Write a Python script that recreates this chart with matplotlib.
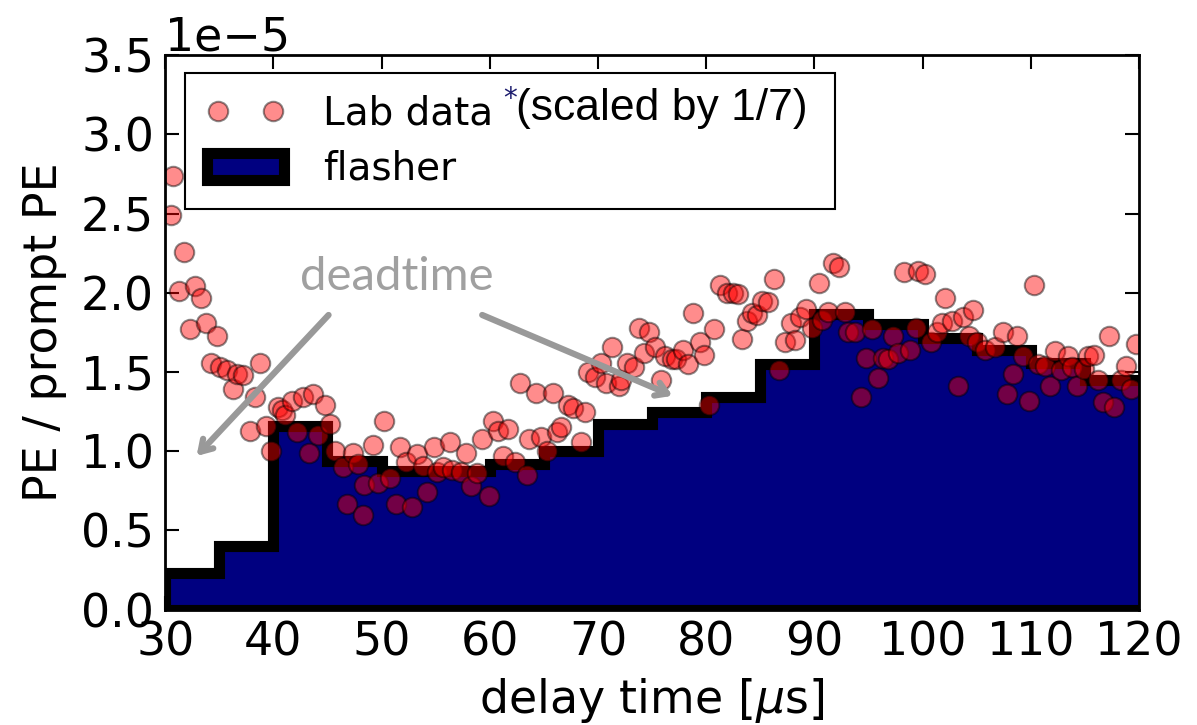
import numpy as np
import matplotlib
matplotlib.use('Agg')
import matplotlib.pyplot as plt
from matplotlib.patches import Patch
from matplotlib.lines import Line2D

# flasher histogram, 5 us bins, in units of 1e-5 (last bin runs past the axis edge)
bin_edges = [30, 35, 40, 45, 50, 55, 60, 65, 70, 75, 80, 85, 90, 95, 100, 105, 110, 115, 120, 125]
flasher = [0.23, 0.40, 1.16, 0.94, 0.875, 0.875, 0.92, 1.00, 1.17, 1.245,
           1.345, 1.55, 1.865, 1.80, 1.715, 1.64, 1.56, 1.45, 1.45]

# lab data points (delay time, PE/prompt PE in 1e-5)
lab_t = [30.55, 30.74, 31.3, 31.75, 32.3, 32.8, 33.3, 33.8, 34.25, 34.8,
         35.1, 35.7, 36.3, 36.65, 37.2, 37.8, 38.3, 38.8, 39.3, 39.8,
         40.4, 40.8, 41.1, 41.7, 42.2, 42.7, 43.3, 43.7, 44.1, 44.8,
         45.25, 45.7, 46.4, 46.8, 47.4, 47.8, 48.3, 48.4, 49.2, 49.7,
         50.2, 50.8, 51.3, 51.7, 52.3, 52.8, 53.3, 53.8, 54.2, 54.8,
         55.1, 55.7, 56.3, 56.5, 57.3, 57.8, 58.3, 58.8, 59.3, 59.9,
         60.3, 60.8, 61.2, 61.7, 62.3, 62.8, 63.4, 63.6, 64.3, 64.7,
         65.3, 65.8, 66.2, 66.6, 67.2, 67.7, 68.4, 68.8, 69.1, 69.7,
         70.3, 70.7, 71.3, 71.9, 72.1, 72.7, 73.3, 73.8, 74.3, 74.7,
         75.3, 75.8, 76.2, 76.8, 77.2, 77.9, 78.3, 78.8, 79.4, 79.8,
         80.3, 80.7, 81.3, 81.9, 82.5, 82.9, 83.3, 83.8, 84.2, 84.7,
         85.2, 85.7, 86.3, 86.7, 87.3, 87.8, 88.2, 88.7, 89.2, 89.8,
         90.4, 90.7, 91.3, 91.7, 92.3, 92.8, 93.1, 93.8, 94.3, 94.8,
         95.3, 95.9, 96.3, 96.8, 97.3, 97.7, 98.3, 98.8, 99.4, 99.6,
         100.2, 100.8, 101.3, 101.8, 102.1, 102.7, 103.3, 103.7, 104.3, 104.7,
         105.0, 105.8, 106.7, 107.4, 107.8, 108.4, 108.7, 109.3, 109.8, 110.3,
         110.7, 111.3, 111.8, 112.2, 112.8, 113.4, 113.8, 114.3, 114.9, 115.3,
         115.8, 116.2, 116.7, 117.2, 117.7, 118.3, 118.8, 119.3, 119.7]
lab_pe = [2.49, 2.74, 2.01, 2.26, 1.77, 2.04, 1.97, 1.81, 1.56, 1.73,
          1.53, 1.51, 1.39, 1.49, 1.48, 1.13, 1.34, 1.56, 1.16, 1.00,
          1.28, 1.26, 1.23, 1.32, 1.12, 1.34, 0.99, 1.36, 1.10, 1.29,
          1.17, 1.00, 0.90, 0.67, 0.99, 0.92, 0.60, 0.79, 1.04, 0.80,
          1.19, 0.83, 0.67, 1.03, 0.93, 0.65, 0.98, 0.91, 0.74, 1.03,
          0.87, 0.90, 1.06, 0.88, 0.87, 0.99, 0.78, 0.86, 1.08, 0.72,
          1.19, 1.13, 0.97, 1.14, 0.93, 1.43, 0.85, 1.08, 1.37, 1.09,
          1.00, 1.37, 1.12, 1.15, 1.29, 1.27, 1.06, 1.25, 1.50, 1.47,
          1.56, 1.43, 1.66, 1.41, 1.45, 1.56, 1.53, 1.78, 1.62, 1.75,
          1.66, 1.45, 1.60, 1.58, 1.58, 1.64, 1.55, 1.87, 1.69, 1.61,
          1.29, 1.77, 2.05, 2.00, 2.00, 1.99, 1.71, 1.82, 1.87, 1.86,
          1.95, 1.94, 2.09, 1.51, 1.69, 1.81, 1.70, 1.85, 1.90, 1.78,
          2.06, 1.83, 1.88, 2.19, 2.16, 1.88, 1.75, 1.75, 1.34, 1.59,
          1.77, 1.46, 1.59, 1.58, 1.73, 1.62, 2.13, 1.64, 1.78, 2.14,
          2.12, 1.69, 1.75, 1.81, 1.97, 1.82, 1.41, 1.85, 1.73, 1.89,
          1.69, 1.64, 1.66, 1.75, 1.36, 1.49, 1.73, 1.60, 1.32, 2.05,
          1.55, 1.54, 1.41, 1.63, 1.51, 1.60, 1.53, 1.41, 1.52, 1.60,
          1.61, 1.45, 1.31, 1.73, 1.28, 1.45, 1.54, 1.39, 1.68]

scale = 1e-5
fs = 33

fig = plt.figure(figsize=(11.97, 7.25), dpi=100)
ax = fig.add_subplot(111)
fig.subplots_adjust(left=0.138, right=0.9515, top=0.924, bottom=0.159)

# histogram of flasher
ax.hist(bin_edges[:-1], bins=bin_edges, weights=np.array(flasher) * scale,
        histtype='stepfilled', facecolor='#000080', edgecolor='black',
        linewidth=8, zorder=2)

# lab data
ax.plot(np.array(lab_t), np.array(lab_pe) * scale, 'o', color='red',
        mec='black', mew=1.5, ms=14, alpha=0.45, zorder=3)

ax.set_xlim(30, 120)
ax.set_ylim(0, 3.5e-5)
ax.set_xticks(np.arange(30, 121, 10))
ax.set_yticks(np.arange(0, 3.51e-5, 0.5e-5))
ax.tick_params(direction='in', top=True, right=True, length=10, width=1.5,
               labelsize=fs, pad=8)
ax.yaxis.get_offset_text().set_fontsize(fs)
for sp in ax.spines.values():
    sp.set_linewidth(2)
    sp.set_zorder(4)

ax.set_xlabel(r'delay time [$\mu$s]', fontsize=fs, labelpad=7)
ax.set_ylabel('PE / prompt PE', fontsize=fs, labelpad=10)

# legend
h1 = Line2D([], [], ls='none', marker='o', color='red', mec='black', mew=1.5,
            ms=14, alpha=0.45)
h2 = Patch(facecolor='#000080', edgecolor='black', linewidth=8)
leg = ax.legend([h1, h2], ['Lab data', 'flasher'], loc='upper left',
                bbox_to_anchor=(0.0205, 0.5, 0.667, 0.4676), mode='expand',
                borderaxespad=0, numpoints=2, fontsize=28, fancybox=False,
                handlelength=2.0, handletextpad=1.0, labelspacing=0.45,
                borderpad=0.55, framealpha=1)
leg.get_frame().set_edgecolor('black')
leg.get_frame().set_linewidth(1.5)
leg.set_zorder(5)

ax.text(0.347, 0.907, '*', transform=ax.transAxes, fontsize=20,
        color='#1c1c6e', zorder=6)
ax.text(0.36, 0.883, '(scaled by 1/7)', transform=ax.transAxes,
        fontsize=32, family=['Liberation Sans', 'DejaVu Sans'],
        va='baseline', zorder=6)

# deadtime annotation
ax.text(51.4, 2.10e-5, 'deadtime', fontsize=34, color='#a0a0a0',
        family=['Lato', 'DejaVu Sans'], ha='center', va='center', zorder=6)
arrow = dict(arrowstyle='->, head_length=0.8, head_width=0.5',
             color='#999999', lw=4.5, shrinkA=0, shrinkB=0)
ax.annotate('', xy=(32.9, 0.97e-5), xytext=(45.1, 1.86e-5),
            arrowprops=arrow, zorder=6)
ax.annotate('', xy=(76.9, 1.35e-5), xytext=(59.3, 1.86e-5),
            arrowprops=arrow, zorder=6)

fig.savefig('out.png', dpi=100)
